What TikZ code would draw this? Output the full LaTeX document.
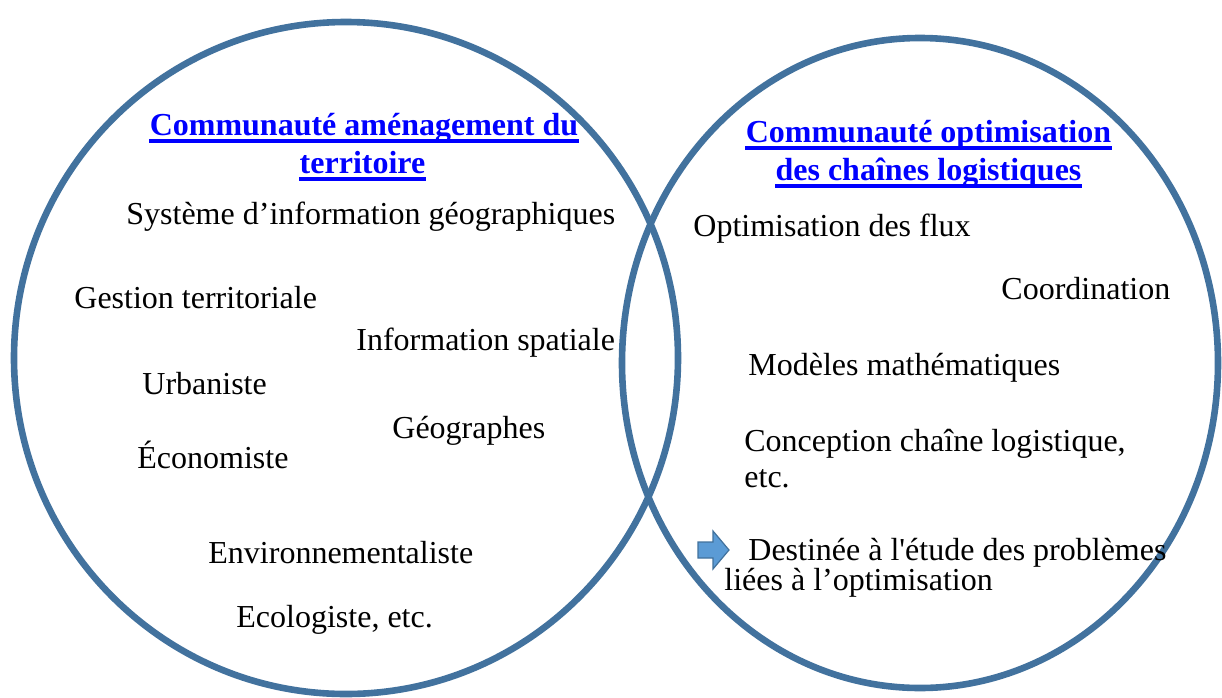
\documentclass[tikz,border=0pt]{standalone}
\usepackage{fontspec}
\setmainfont{Liberation Serif}
\definecolor{ring}{RGB}{66,114,158}
\definecolor{ttlblue}{RGB}{0,0,255}
\definecolor{arrowfill}{RGB}{91,155,213}
\definecolor{arrowline}{RGB}{65,113,156}
\begin{document}
\begin{tikzpicture}[x=0.5pt,y=-0.5pt,
  ringline/.style={draw=ring,line width=3.3pt},
  item/.style={anchor=base west,inner sep=0pt,font=\fontsize{16pt}{19pt}\selectfont},
  ttl/.style={anchor=base,inner sep=0pt,text=ttlblue,font=\fontsize{16pt}{19pt}\selectfont\bfseries},
  ul/.style={draw=ttlblue,line width=2pt}]
\useasboundingbox (0,0) rectangle (1222,697);
% circles
\draw[ringline] (346,358) ellipse [x radius=166pt, y radius=168pt];
\draw[ringline] (920,363) ellipse [x radius=149pt, y radius=162.5pt];
% titles
\node[ttl] (tl1) at (364,135) {Communauté aménagement du};
\node[ttl] (tl2) at (362.5,173) {territoire};
\node[ttl] (tr1) at (928.5,142) {Communauté optimisation};
\node[ttl] (tr2) at (928.5,180) {des chaînes logistiques};
\foreach \n in {tl1,tl2,tr1,tr2}{
  \draw[ul] ([yshift=-3pt]\n.base west) -- ([yshift=-3pt]\n.base east);
}
% left items
\node[item] (sig) at (126,224) {Système d’information géographiques};
\node[item] (gest) at (74,308) {Gestion territoriale};
\node[item] (info) at (356,350) {Information spatiale};
\node[item] (urb) at (142,394) {Urbaniste};
\node[item] (geo) at (392,438) {Géographes};
\node[item] (eco) at (137,468) {Économiste};
\node[item] (env) at (208,563) {Environnementaliste};
\node[item] (ecol) at (236,627) {Ecologiste, etc.};
% right items
\node[item] (flux) at (693,236) {Optimisation des flux};
\node[item] (coord) at (1001,299) {Coordination};
\node[item] (mod) at (748,375) {Modèles mathématiques};
\node[item] (conc) at (744,451) {Conception chaîne logistique,};
\node[item] (etc) at (744,487) {etc.};
\node[item] (dest) at (748,560) {Destinée à l\textquotesingle étude des problèmes};
\node[item] (liees) at (724,590) {liées à l’optimisation};
% block arrow
\draw[fill=arrowfill,draw=arrowline,line width=0.6pt,line join=miter]
  (698,542) -- (713,542) -- (713,531) -- (729,550) -- (713,569) -- (713,558) -- (698,558) -- cycle;
\end{tikzpicture}
\end{document}
